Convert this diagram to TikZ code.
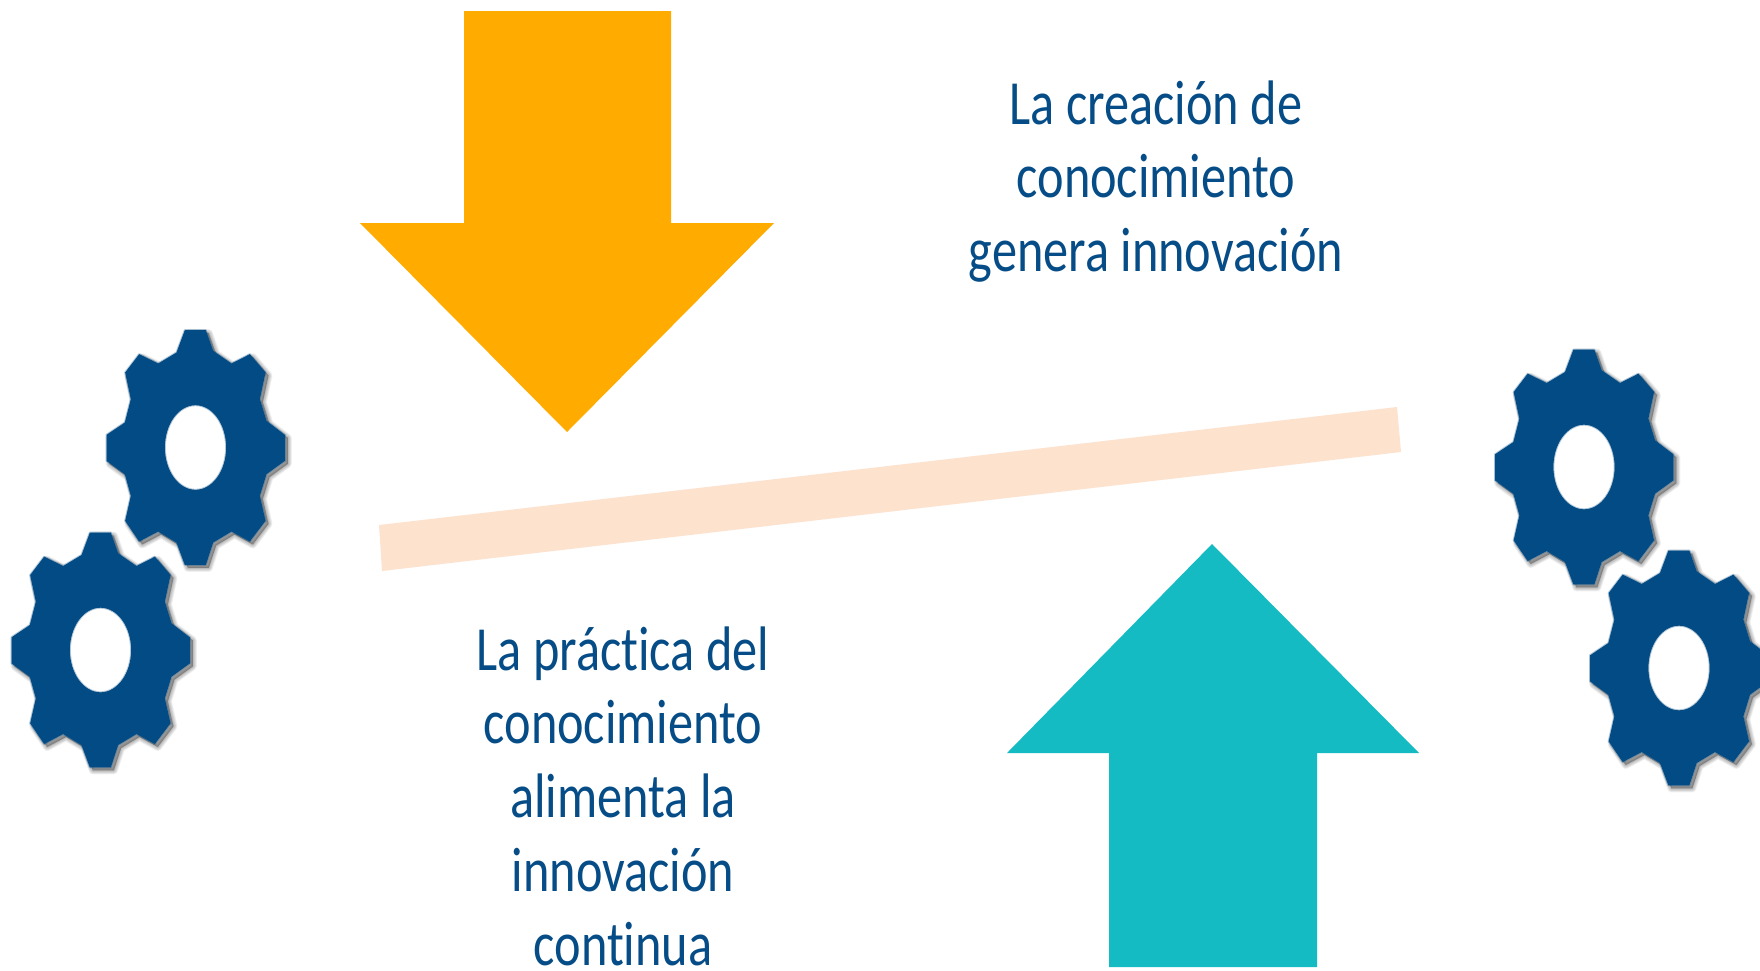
\documentclass[tikz,border=0pt]{standalone}
\usepackage{fontspec}
\setmainfont{Carlito}[Ligatures=NoCommon]
\definecolor{gearblue}{HTML}{024B85}
\definecolor{txtblue}{HTML}{064D87}
\definecolor{orangearrow}{HTML}{FFAB00}
\definecolor{tealarrow}{HTML}{15BBC3}
\definecolor{beamcolor}{HTML}{FDE2CE}
\newcommand{\gearteeth}{
  (-32,-352) -- (31,-352) -- (53,-290) -- (108,-252) -- (163,-280) -- (210,-225) -- (193,-145) -- (213,-80) -- (268,-38) -- (268,40) -- (213,80) -- (193,145) -- (210,220) -- (163,282) -- (108,252) -- (53,285) -- (31,352) -- (-32,352) -- (-57,285) -- (-112,252) -- (-169,282) -- (-211,220) -- (-194,145) -- (-212,80) -- (-267,40) -- (-267,-38) -- (-212,-75) -- (-194,-145) -- (-211,-225) -- (-169,-280) -- (-112,-252) -- (-57,-285) -- cycle}
\newcommand{\gearhole}{(0,0) ellipse [x radius=92, y radius=127]}
\tikzset{
  gear/.pic={
    \foreach \w in {8pt,6.5pt,5pt,3.5pt,2pt,0.5pt}{
      \draw[black,opacity=.055,line width=\w,line join=round,shift={(9,9)}] \gearteeth;
    }
    \fill[black,opacity=.3,shift={(9,9)}] \gearteeth;
    \fill[white] \gearhole;
    \draw[gearblue,opacity=.3,line width=2pt,line join=round] \gearteeth;
    \fill[gearblue,even odd rule] \gearteeth \gearhole;
    \draw[gearblue,opacity=.3,line width=2pt] \gearhole;
  },
  caption/.style={font=\fontsize{50.3}{59}\selectfont,text=txtblue,align=center,inner sep=0pt,transform shape,yscale=1.25}
}
\begin{document}
\begin{tikzpicture}[x=1pt,y=-1pt]
\useasboundingbox (0,0) rectangle (1760,970);
\clip (0,0) rectangle (1760,970);
\fill[white] (0,0) rectangle (1760,970);
\fill[orangearrow] (464,11) -- (671,11) -- (671,223) -- (774,223) -- (567,432) -- (360,223) -- (464,223) -- cycle;
\fill[tealarrow] (1212,544) -- (1419,753) -- (1317,753) -- (1317,967) -- (1109,967) -- (1109,753) -- (1007,753) -- cycle;
\fill[beamcolor] (379,525) -- (1397,407) -- (1401,452) -- (382,571) -- cycle;
\pic[scale=1/3] at (195.5,447.5) {gear};
\pic[scale=1/3] at (100.5,650) {gear};
\pic[scale=1/3] at (1584,467) {gear};
\pic[scale=1/3] at (1679,668) {gear};
\node[caption] (top) at (1156,181.5) {La creación de\\conocimiento\\genera innovación};
\node[caption] (bottom) at (623,796) {La práctica del\\conocimiento\\alimenta la\\innovación\\continua};
\end{tikzpicture}
\end{document}
